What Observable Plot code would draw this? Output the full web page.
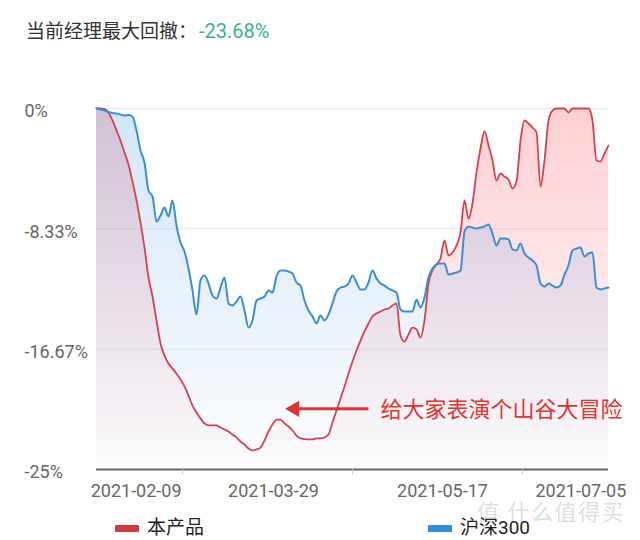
<!DOCTYPE html>
<html>
<head>
<meta charset="utf-8">
<script src="https://cdn.jsdelivr.net/npm/d3@7"></script>
<script src="https://cdn.jsdelivr.net/npm/@observablehq/plot@0.6"></script>
<style>
  html, body { margin: 0; padding: 0; background: #fff; }
  body { width: 640px; height: 540px; overflow: hidden; position: relative;
         font-family: Roboto, "Noto Sans CJK SC", sans-serif; }
  #title { position: absolute; left: 26px; top: 19px; font-size: 19px; line-height: 24px; color: #333; white-space: nowrap; }
  #title .v { color: #3bb38a; font-size: 20px; margin-left: 2px; }
  #chart { position: absolute; left: 0; top: 64px; }
  .leg { position: absolute; top: 517px; height: 22px; line-height: 22px; font-size: 19px; color: #222; display: flex; align-items: center; white-space: nowrap; }
  .leg i { display: inline-block; width: 24px; height: 7px; margin-right: 8px; border-radius: 1px; }
  #wm { position: absolute; left: 477px; top: 502px; line-height: 22px; font-size: 22px; color: rgba(190,190,190,0.5); white-space: nowrap; letter-spacing: 1.5px; }
</style>
</head>
<body>
<div id="title">当前经理最大回撤：<span class="v">-23.68%</span></div>
<div id="chart"></div>
<div id="wm">值 什么值得买</div>
<div class="leg" style="left:115px"><i style="background:#d8363e"></i>本产品</div>
<div class="leg" style="left:428px"><i style="background:#2f8fe0"></i>沪深300</div>
<script>
// 本产品 drawdown (%), evenly spaced samples
const productValues = [
  0, 0, -0.03, -0.28, -0.83, -1.52, -2.22, -3.05, -3.88, -5.06,
  -6.37, -7.89, -9.63, -11.70, -13.02, -14.68, -16.27, -17.11, -17.66, -18.01,
  -18.35, -18.77, -19.25, -19.88, -20.57, -21.05, -21.47, -21.81, -21.95, -21.95,
  -21.95, -22.09, -22.23, -22.37, -22.58, -22.78, -23.06, -23.27, -23.55, -23.68,
  -23.61, -23.48, -22.99, -22.37, -21.88, -21.54, -21.54, -21.81, -22.02, -22.30,
  -22.65, -22.85, -22.89, -22.92, -22.92, -22.85, -22.85, -22.78, -22.58, -21.75,
  -20.91, -20.08, -19.25, -18.35, -17.52, -16.76, -16.07, -15.44, -14.89, -14.40,
  -14.20, -14.06, -13.92, -13.85, -13.64, -13.50, -15.72, -16.14, -15.65, -15.17,
  -15.30, -15.86, -14.68, -12.12, -11.22, -10.80, -10.39, -9.14, -10.18, -9.97,
  -9.49, -8.59, -6.37, -7.62, -6.58, -4.43, -2.77, -1.59, -2.56, -3.60,
  -4.99, -4.50, -4.71, -4.92, -5.54, -5.06, -2.22, -0.83, -1.04, -1.32,
  -1.66, -5.40, -3.60, -0.83, -0.14, 0, 0, 0, -0.28, 0,
  0, 0, 0, 0, -0.83, -3.60, -3.67, -3.12, -2.56
];
// 沪深300 drawdown (%), same sampling
const hs300Values = [
  0, -0.07, -0.14, -0.24, -0.31, -0.35, -0.42, -0.48, -0.45, -0.55,
  -1.52, -2.91, -3.74, -5.68, -6.09, -7.83, -7.41, -6.86, -7.48, -6.37,
  -8.10, -9.28, -9.90, -11.08, -12.60, -14.27, -11.91, -11.57, -12.12, -12.95,
  -13.16, -12.40, -11.70, -13.50, -13.64, -13.37, -13.02, -13.99, -15.17, -14.68,
  -13.30, -13.16, -13.02, -12.60, -12.74, -11.63, -11.22, -11.22, -11.29, -11.43,
  -12.05, -12.26, -13.30, -13.99, -14.40, -14.89, -14.34, -14.68, -14.27, -13.50,
  -12.67, -12.40, -12.33, -12.12, -11.57, -12.05, -12.53, -12.53, -12.05, -11.22,
  -11.77, -12.12, -12.26, -12.47, -12.60, -12.74, -13.92, -14.06, -14.06, -14.06,
  -13.23, -13.78, -13.09, -11.70, -11.08, -10.80, -10.73, -10.73, -11.50, -11.43,
  -11.36, -11.22, -8.52, -8.17, -8.24, -8.31, -8.24, -8.17, -8.03, -8.66,
  -9.49, -9.00, -9.00, -9.07, -9.76, -9.83, -9.35, -10.04, -10.32, -10.53,
  -10.87, -12.12, -12.33, -12.12, -12.26, -12.40, -12.26, -11.50, -10.87, -9.83,
  -9.70, -9.63, -10.25, -10.04, -9.97, -12.40, -12.53, -12.47, -12.40
];
const yTickValues = [0, -8.33, -16.67, -25];
const yTickLabels = ["0%", "-8.33%", "-16.67%", "-25%"];
const xTickLabels = ["2021-02-09", "2021-03-29", "2021-05-17", "2021-07-05"];
const xTickLabelPos = [9.9, 44.25, 86.5, 121.1];
const xTickMarkPos = [21.5, 64, 106.5];
const annotationText = "给大家表演个山谷大冒险";
const arrowFrom = {x: 68, y: -20.8};
const arrowTo = {x: 49.5, y: -20.8};
const annotationPos = {x: 71, y: -20.85};

const product = productValues.map((v, i) => ({i, v}));
const hs300 = hs300Values.map((v, i) => ({i, v}));
const labelMap = new Map(xTickLabelPos.map((p, k) => [p, xTickLabels[k]]));

const chart = Plot.plot({
  width: 640,
  height: 446,
  marginLeft: 96,
  marginRight: 32,
  marginTop: 44,
  marginBottom: 41,
  style: {fontFamily: 'Roboto, "Noto Sans CJK SC", sans-serif', background: "transparent"},
  x: {domain: [0, product.length - 1], axis: null},
  y: {domain: [-25, 0], axis: null},
  marks: [
    Plot.ruleY(yTickValues.slice(0, 3), {stroke: "#e9e9e9", strokeWidth: 1}),
    Plot.areaY(product, {x: "i", y1: -25, y2: "v", fill: "url(#gradRed)", curve: "monotone-x"}),
    Plot.areaY(hs300, {x: "i", y1: -25, y2: "v", fill: "url(#gradBlue)", curve: "monotone-x"}),
    Plot.lineY(product, {x: "i", y: "v", stroke: "#d8414c", strokeWidth: 1.8, curve: "monotone-x"}),
    Plot.lineY(hs300, {x: "i", y: "v", stroke: "#3a8ed6", strokeWidth: 2, curve: "monotone-x"}),
    Plot.ruleY([-25], {stroke: "#666", strokeWidth: 2}),
    Plot.axisX(xTickMarkPos, {tickSize: 5, stroke: "#c8c8c8", tickFormat: () => ""}),
    Plot.axisX(xTickLabelPos, {tickSize: 0, tickPadding: 15, fontSize: 18, fill: "#666", tickFormat: d => labelMap.get(d)}),
    Plot.text(yTickValues, {y: d => d, text: (d, k) => yTickLabels[k], frameAnchor: "left", dx: -72, dy: 3, textAnchor: "start", fontSize: 18, fill: "#666"}),
    Plot.link([{a: arrowFrom, b: arrowTo}], {x1: d => d.a.x, y1: d => d.a.y, x2: d => d.b.x, y2: d => d.b.y, stroke: "#e2332c", strokeWidth: 3}),
    Plot.dot([arrowTo], {x: "x", y: "y", symbol: "triangle", rotate: -90, r: 6, fill: "#e2332c", stroke: "none"}),
    Plot.text([annotationPos], {x: "x", y: "y", text: () => annotationText, textAnchor: "start", fontSize: 22, fill: "#e2332c"})
  ]
});

const defs = d3.select(chart).insert("defs", ":first-child");
const gR = defs.append("linearGradient").attr("id", "gradRed").attr("x1", 0).attr("y1", 0).attr("x2", 0).attr("y2", 1);
gR.append("stop").attr("offset", "0%").attr("stop-color", "rgb(250,60,72)").attr("stop-opacity", 0.24);
gR.append("stop").attr("offset", "100%").attr("stop-color", "rgb(250,60,72)").attr("stop-opacity", 0.01);
const gB = defs.append("linearGradient").attr("id", "gradBlue").attr("x1", 0).attr("y1", 0).attr("x2", 0).attr("y2", 1);
gB.append("stop").attr("offset", "0%").attr("stop-color", "rgb(50,140,225)").attr("stop-opacity", 0.22);
gB.append("stop").attr("offset", "100%").attr("stop-color", "rgb(50,140,225)").attr("stop-opacity", 0.01);

document.getElementById("chart").appendChild(chart);
</script>
</body>
</html>
